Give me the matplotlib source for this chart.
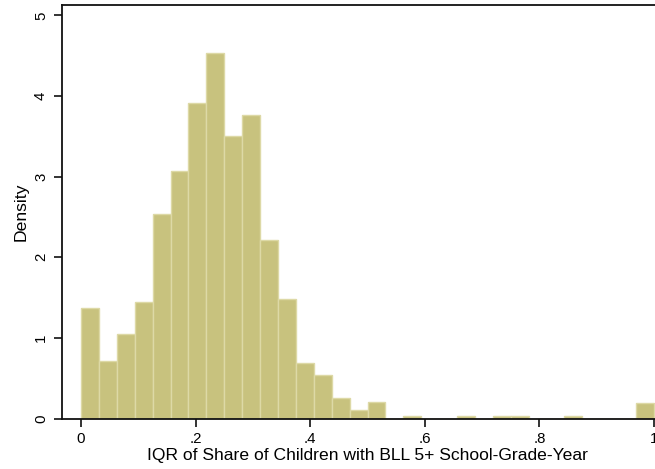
import matplotlib
matplotlib.use("Agg")
import matplotlib.pyplot as plt
import numpy as np

plt.rcParams['font.family'] = ['Liberation Sans', 'DejaVu Sans']

# Histogram: 32 equal-width bins on [0, 1]
bin_start = 0.0
bin_end = 1.0
n_bins = 32
density = [1.375, 0.71, 1.054, 1.445, 2.54, 3.07, 3.91, 4.53, 3.50, 3.76,
           2.215, 1.486, 0.69, 0.54, 0.26, 0.10, 0.21, 0.0, 0.03, 0.0,
           0.0, 0.03, 0.0, 0.03, 0.03, 0.0, 0.0, 0.03, 0.0, 0.0,
           0.0, 0.19]
x_ticks = [0, 0.2, 0.4, 0.6, 0.8, 1.0]
x_tick_labels = ["0", ".2", ".4", ".6", ".8", "1"]
y_ticks = [0, 1, 2, 3, 4, 5]
y_tick_labels = ["0", "1", "2", "3", "4", "5"]
x_label = "IQR of Share of Children with BLL 5+ School-Grade-Year"
y_label = "Density"

fig = plt.figure(figsize=(6.55, 4.69), dpi=100)
ax = fig.add_axes([62/655, 50.5/469, (673-62)/655, (418.5-5)/469])

width = (bin_end - bin_start) / n_bins
lefts = bin_start + width * np.arange(n_bins)
ax.bar(lefts, density, width=width, align='edge', color='#C8C27E',
       edgecolor='#DDD9A6', linewidth=1.0)

ax.set_xlim(-0.0331, 1.0331)
ax.set_ylim(0, 5.13)

for s in ['left', 'bottom', 'top', 'right']:
    ax.spines[s].set_linewidth(1.3)
    ax.spines[s].set_color('#111111')

ax.set_xticks(x_ticks)
ax.set_xticklabels(x_tick_labels, fontsize=10.8)
ax.set_yticks(y_ticks)
ax.set_yticklabels(y_tick_labels, fontsize=10.8, rotation=90, va='center')
ax.tick_params(axis='both', direction='out', length=6, width=1.2, color='#111111', pad=4)

ax.set_xlabel(x_label, fontsize=12.6, labelpad=1)
ax.set_ylabel(y_label, fontsize=12.6, labelpad=4)

fig.savefig("out.png", dpi=100)
